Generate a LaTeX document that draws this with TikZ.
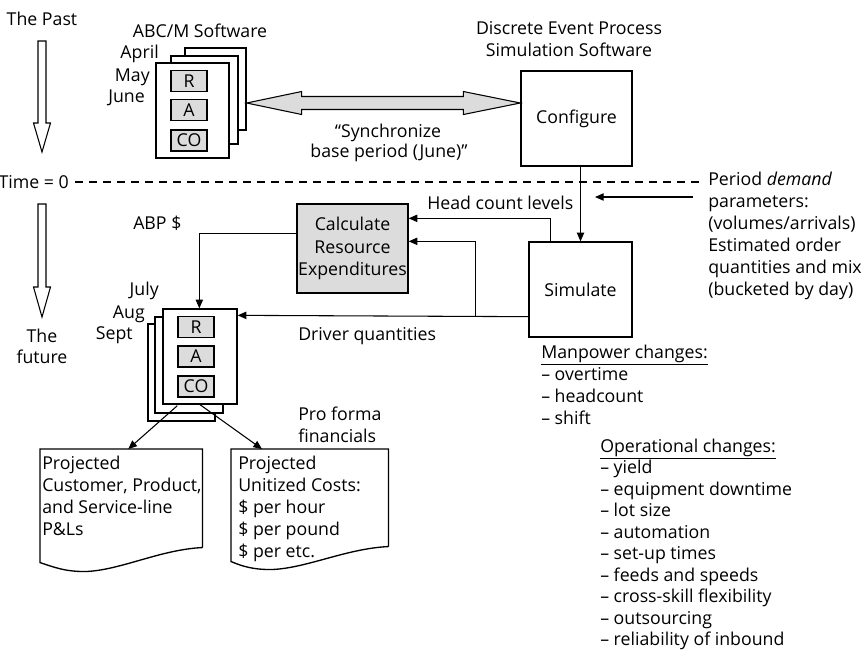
\documentclass[tikz,border=0pt]{standalone}
\usepackage{fontspec}
\setmainfont{Open Sans}
\usetikzlibrary{arrows.meta,calc}
\definecolor{lgray}{RGB}{220,220,220}
\newcommand{\fs}{\fontsize{13.3}{16.5}\selectfont}
\tikzset{
  txt/.style={font=\fs, inner sep=0pt},
  lbl/.style={txt, anchor=base west},
  lble/.style={txt, anchor=base east},
  lblc/.style={txt, anchor=base},
  boxline/.style={line width=1pt},
  page/.style={draw, boxline, fill=white, inner sep=0pt},
  tag/.style={draw, line width=0.8pt, fill=lgray, inner sep=0pt, minimum width=27pt, minimum height=15.75pt, font=\fs},
  procbox/.style={draw, boxline, inner sep=0pt, font=\fs, align=center},
  arr/.style={line width=0.8pt, -{Triangle[length=6.5pt,width=5.5pt]}},
  hollow/.style={draw, line width=0.8pt, fill=white},
  docarea/.style={inner sep=0pt, anchor=north west},
  dashline/.style={line width=0.8pt, dash pattern=on 6pt off 4.5pt},
}
\begin{document}
\begin{tikzpicture}[x=0.75pt,y=-0.75pt]
\useasboundingbox (0,0) rectangle (862,654);

% time arrows
\node[lblc] (past) at (42,25) {The Past};
\draw[hollow] (38,41) -- (46,41) -- (46,123) -- (50.5,123) -- (42,152) -- (33.5,123) -- (38,123) -- cycle;
\node[lble] (t0) at (69,188) {Time = 0};
\coordinate (dashEnd) at (703,182);
\draw[dashline] ($(t0.east |- dashEnd)+(6,0)$) -- (dashEnd);
\draw[hollow] (38,204) -- (46,204) -- (46,287) -- (50.5,287) -- (42,317) -- (33.5,287) -- (38,287) -- cycle;
\node[lblc] (fut1) at (42,342) {The};
\node[lblc] (fut2) at (42,363) {future};

% ABC/M software stack (past)
\node[lblc] (abcm) at (200,37) {ABC/M Software};
\node[page, minimum width=0.75*61pt, minimum height=0.75*82pt] (ta3) at (215.5,89) {};
\node[page, minimum width=0.75*67pt, minimum height=0.75*88pt] (ta2) at (204.5,100) {};
\node[page, minimum width=0.75*73pt, minimum height=0.75*95pt] (ta1) at (192.5,110.5) {};
\node[tag] (tR) at (189,81) {R};
\node[tag] (tA) at (189,110) {A};
\node[tag] (tCO) at (189,140.5) {CO};
\node[lble] (apr) at (159,58) {April};
\node[lble] (may) at (150,81) {May};
\node[lble] (jun) at (145,102) {June};

% simulation software
\node[lblc] (des1) at (569,34) {Discrete Event Process};
\node[lblc] (des2) at (569,56) {Simulation Software};
\node[procbox, minimum width=0.75*111pt, minimum height=0.75*95pt] (conf) at (576.5,118.5) {Configure};
\node[procbox, minimum width=0.75*103pt, minimum height=0.75*95pt] (sim) at (580.5,289.5) {Simulate};

% synchronize double arrow
\coordinate (L) at ($(ta3.east)+(0,14)$);
\coordinate (R) at ($(conf.west)+(0,-15.5)$);
\draw[line width=0.8pt, fill=lgray] (L) -- ($(L)+(55,-11.5)$) -- ($(L)+(55,-6.5)$) -- ($(R)+(-57,-6.5)$) -- ($(R)+(-57,-11.5)$) -- (R) -- ($(R)+(-57,11.5)$) -- ($(R)+(-57,6.5)$) -- ($(L)+(55,6.5)$) -- ($(L)+(55,11.5)$) -- cycle;
\node[lblc] (syn1) at (388,137) {“Synchronize};
\node[lblc] (syn2) at (389,157) {base period (June)”};

% demand parameters
\foreach \t [count=\i] in {{Period \textit{demand}},{parameters:},{(volumes/arrivals)},{Estimated order},{quantities and mix},{(bucketed by day)}}
  \node[lbl] (pd\i) at (708,{185+22*(\i-1)}) {\t};
\coordinate (pdS) at (693,197);
\coordinate (pdE) at (595,197);
\draw[arr] (pdS) -- (pdE);
\draw[arr] ($(conf.south)+(4,0)$) -- (sim.north);

% calculate box
\node[procbox, fill=lgray, minimum width=0.75*111pt, minimum height=0.75*89pt, font=\fontsize{13.3}{16.9}\selectfont] (calc) at (352.5,248.5) {Calculate\\Resource\\Expenditures};
\node[lbl] (hcl) at (427,209) {Head count levels};
\node[lbl] (abp) at (133,229) {ABP \$};

% future stack
\node[page, minimum width=0.75*67pt, minimum height=0.75*97pt] (bb3) at (181.5,372.5) {};
\node[page, minimum width=0.75*68pt, minimum height=0.75*96pt] (bb2) at (189,365) {};
\node[page, minimum width=0.75*74pt, minimum height=0.75*95pt] (bf) at (200,356.5) {};
\node[tag] (bR) at (196,327) {R};
\node[tag] (bA) at (196,356.5) {A};
\node[tag] (bCO) at (196,386.5) {CO};
\node[lble] (jul) at (159,295) {July};
\node[lble] (aug) at (145,318) {Aug};
\node[lble] (sep) at (133,339) {Sept};

% connectors
\draw[arr] ($(sim.north west)+(22,0)$) |- ($(calc.north east)+(0,15)$);
\draw[arr] ($(sim.south west)+(0,-21)$) -- ($(bf.north east)+(0,7)$);
\draw[arr] ($(sim.south west)+(-53,-21)$) |- ($(calc.north east)+(0,38)$);
\draw[arr] ($(calc.north west)+(0,30)$) -| ($(bf.north west)+(37,0)$);
\node[lbl] (drv) at (298,340) {Driver quantities};

% documents
\node[docarea, minimum width=0.75*162pt, minimum height=0.75*98pt] (docL) at (40,449) {};
\draw[boxline] (docL.south east) -- (docL.north east) -- (docL.north west) -- ($(docL.south west)+(0,15)$)
  .. controls ($(docL.south west)+(15,20)$) and ($(docL.south west)+(25,24)$) .. ($(docL.south west)+(45,24)$)
  .. controls ($(docL.south west)+(80,23)$) and ($(docL.south west)+(120,2)$) .. (docL.south east);
\node[docarea, minimum width=0.75*157pt, minimum height=0.75*97pt] (docR) at (231,449) {};
\draw[boxline] (docR.south east) -- (docR.north east) -- (docR.north west) -- ($(docR.south west)+(0,15)$)
  .. controls ($(docR.south west)+(12,20)$) and ($(docR.south west)+(22,23)$) .. ($(docR.south west)+(40,23)$)
  .. controls ($(docR.south west)+(75,22)$) and ($(docR.south west)+(115,2)$) .. (docR.south east);
\draw[arr] ($(bf.south west)+(15,1)$) -- ($(docL.north)+(7,0)$);
\draw[arr] (bf.south) -- ($(docR.north west)+(31,0)$);
\foreach \t [count=\i] in {{Projected},{Customer, Product,},{and Service-line},{P\&Ls}}
  \node[lbl] (dl\i) at (42,{469+22*(\i-1)}) {\t};
\foreach \t [count=\i] in {{Projected},{Unitized Costs:},{\$ per hour},{\$ per pound},{\$ per etc.}}
  \node[lbl] (dr\i) at (238,{469+22*(\i-1)}) {\t};
\node[lbl] (pf1) at (298,420) {Pro forma};
\node[lbl] (pf2) at (298,442) {financials};

% changes lists
\foreach \t [count=\i] in {{\underline{Manpower changes:}},{\textendash{} overtime},{\textendash{} headcount},{\textendash{} shift}}
  \node[lbl] (mp\i) at (541,{358+22*(\i-1)}) {\t};
\foreach \t [count=\i] in {{\underline{Operational changes:}},{\textendash{} yield},{\textendash{} equipment downtime},{\textendash{} lot size},{\textendash{} automation},{\textendash{} set-up times},{\textendash{} feeds and speeds},{\textendash{} cross-skill flexibility},{\textendash{} outsourcing},{\textendash{} reliability of inbound}}
  \node[lbl] (op\i) at (600,{452+21.5*(\i-1)}) {\t};
\end{tikzpicture}
\end{document}
